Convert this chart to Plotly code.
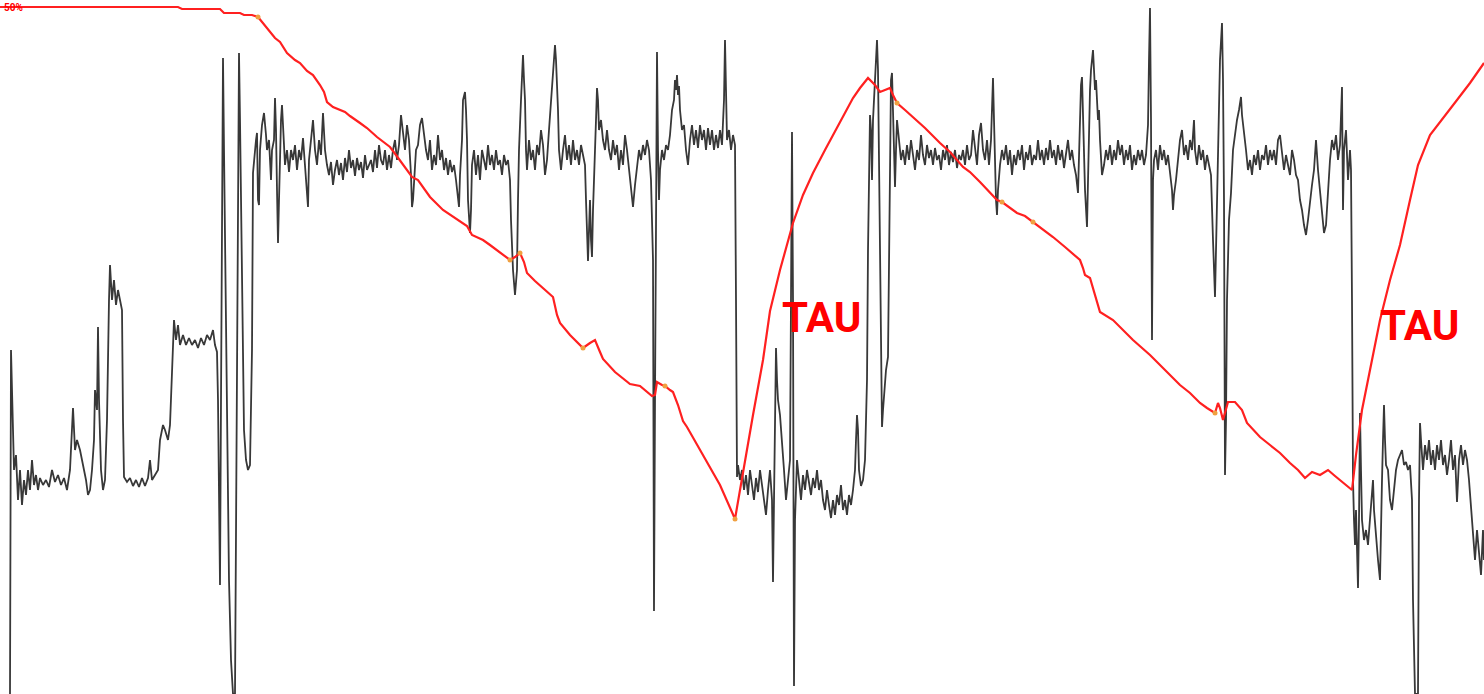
import plotly.graph_objects as go

# ---- black signal trace (time, level) ----
signal_pts = [
(10,694),(11,350),(13,430),(14,470),(16,455),(18,500),(20,470),(22,505),(24,480),(26,495),(28,470),(30,490),(32,460),(34,485),(36,475),(38,490),(40,478),(43,485),(46,480),(49,487),(52,470),(55,482),(58,475),(61,485),(64,478),(67,490),(70,470),(72,430),(73,408),(75,450),(77,440),(80,450),(83,465),(86,480),(88,495),(90,490),(92,470),(94,440),(95,390),(97,410),(98,327),(99,400),(101,470),(103,490),(105,480),(107,420),(109,300),(110,265),(112,300),(114,280),(116,305),(118,290),(120,300),(122,310),(123,420),(124,477),(127,482),(130,478),(133,486),(136,480),(139,487),(142,478),(145,486),(148,478),(150,460),(152,480),(155,475),(158,470),(160,440),(163,425),(165,430),(168,440),(170,425),(172,380),(174,320),(176,340),(178,325),(180,345),(183,335),(186,345),(189,338),(192,345),(195,340),(198,348),(201,338),(204,345),(207,335),(210,340),(213,330),(215,345),(217,352),
(218,400),(219,540),(220,585),(221,400),(222,150),(223,58),(224,150),(225,250),(227,450),(229,580),(231,660),(233,694),(235,694),(237,300),(239,53),(240,120),(242,300),(244,430),(246,460),(248,470),(250,465),(252,350),
(253,173),(254,160),(256,140),(257,133),(258,200),(259,205),(260,150),(262,125),(264,113),(266,135),(267,150),(269,140),(270,170),(271,180),(272,150),(274,140),(275,98),(276,130),(277,190),(278,243),(279,200),(280,150),(281,120),(282,105),(283,130),(285,165),(287,150),(289,172),(291,150),(293,160),(295,145),(297,170),(299,150),(301,160),(303,138),(305,165),(307,200),(308,207),(309,160),(311,140),(313,120),(315,150),(317,165),(319,140),(321,155),(323,113),(325,150),(327,165),(329,175),(331,162),(333,185),(335,170),(337,160),(339,175),(341,163),(343,180),(345,158),(347,172),(349,150),(351,168),(353,160),(355,176),(357,158),(359,170),(361,162),(363,178),(365,155),(367,170),(369,165),(371,160),(373,172),(375,150),(377,168),(379,145),(381,160),(383,165),(385,150),(387,170),(389,155),(391,168),(393,150),(395,140),(397,160),(399,145),(401,115),(403,130),(405,150),(407,125),(409,140),(411,175),(412,207),(413,200),(414,180),(415,170),(416,150),(418,145),(420,125),(422,118),(424,135),(426,150),(428,160),(430,140),(432,170),(434,155),(436,165),(438,135),(440,160),(442,150),(444,170),(446,158),(448,175),(450,160),(452,172),(454,165),(456,180),(458,195),(459,207),(460,175),(462,140),(463,100),(465,92),(466,110),(467,140),(468,200),(470,233),(471,210),(472,165),(474,150),(476,175),(478,155),(480,180),(482,150),(484,160),(486,170),(488,145),(490,165),(492,155),(494,170),(496,150),(498,165),(500,160),(502,175),(504,155),(506,165),(508,160),(510,180),(511,220),(513,270),(515,295),(517,270),(518,200),(519,150),(521,100),(523,55),(524,80),(525,100),(526,150),(527,170),(529,140),(531,160),(533,150),(535,170),(537,145),(539,155),(541,130),(543,145),(545,175),(547,160),(549,130),(551,100),(553,70),(555,45),(556,60),(557,80),(558,110),(559,150),(561,170),(563,150),(565,135),(567,160),(569,145),(571,165),(573,140),(575,160),(577,150),(579,165),(581,145),(583,155),(585,165),(586,200),(587,240),(588,261),(589,230),(590,200),(591,240),(592,257),(593,210),(594,170),(596,120),(597,88),(598,100),(599,130),(601,120),(603,140),(605,150),(607,130),(609,150),(611,160),(613,140),(615,155),(617,145),(619,170),(621,150),(623,165),(625,135),(627,150),(629,170),(631,190),(633,207),(635,185),(637,165),(639,150),(641,160),(643,145),(645,155),(647,140),(649,150),(651,180),(653,260),(654,611),(655,400),(656,150),(657,52),(658,150),(659,200),(660,170),(662,150),(664,160),(666,145),(668,150),(670,135),(672,110),(674,100),(675,80),(676,90),(677,75),(678,95),(679,86),(680,110),(682,130),(684,125),(686,150),(688,165),(690,140),(692,125),(694,145),(696,130),(698,148),(700,125),(702,140),(704,130),(706,150),(708,128),(710,145),(712,130),(714,150),(716,135),(718,148),(720,130),(722,145),(724,100),(725,40),(726,100),(727,140),(729,130),(731,150),(733,135),(735,145),(736,300),(737,477),
(738,465),(740,480),(742,470),(744,490),(746,475),(748,495),(750,470),(752,485),(754,500),(756,478),(758,492),(760,470),(762,485),(764,500),(766,515),(768,490),(770,470),(772,500),(773,582),(774,500),(775,390),(776,348),(777,380),(778,400),(780,415),(782,440),(784,470),(786,500),(788,480),(790,460),(791,300),(792,132),(793,300),(794,686),(795,520),(797,460),(799,480),(801,500),(803,475),(805,490),(807,470),(809,485),(811,495),(813,478),(815,488),(817,470),(819,490),(821,480),(823,500),(825,510),(827,490),(829,505),(831,518),(833,500),(835,515),(837,495),(839,505),(841,485),(843,510),(845,500),(847,515),(849,495),(851,505),(853,490),(855,470),(856,440),(857,415),(858,430),(859,470),(861,486),(863,480),(865,460),(867,380),(868,250),(869,144),(870,115),(871,130),(872,180),(873,120),(875,80),(876,60),(877,40),(878,70),(879,150),(880,219),(881,350),(882,427),(883,410),(884,394),(886,370),(888,357),(889,250),(890,120),(891,80),(892,73),(893,110),(894,160),(895,187),(896,150),(897,120),
(899,140),(901,160),(903,150),(905,165),(907,145),(909,160),(911,140),(913,155),(915,170),(917,150),(919,160),(921,135),(923,155),(925,165),(927,145),(929,158),(931,150),(933,165),(935,148),(937,160),(939,155),(941,170),(943,150),(945,160),(947,145),(949,165),(951,152),(953,162),(955,150),(957,168),(959,155),(961,160),(963,150),(965,165),(967,145),(969,160),(971,155),(973,130),(975,150),(977,165),(979,135),(981,123),(983,150),(985,160),(987,140),(989,165),(991,140),(992,100),(993,78),(994,120),(995,170),(996,200),(997,215),(998,190),(1000,165),(1002,150),(1004,160),(1006,145),(1008,165),(1010,150),(1012,175),(1014,155),(1016,165),(1018,150),(1020,160),(1022,145),(1024,170),(1026,152),(1028,160),(1030,145),(1032,165),(1034,155),(1036,160),(1038,140),(1040,160),(1042,150),(1044,165),(1046,148),(1048,160),(1050,140),(1052,158),(1054,150),(1056,165),(1058,145),(1060,160),(1062,150),(1064,168),(1066,155),(1068,140),(1070,160),(1072,150),(1074,165),(1076,175),(1078,193),(1079,150),(1080,100),(1081,85),(1082,77),(1083,110),(1084,150),(1085,190),(1087,227),(1088,180),(1089,120),(1090,90),(1091,70),(1093,50),(1094,70),(1095,90),(1096,80),(1097,100),(1098,120),(1099,110),(1100,140),(1102,175),(1104,165),(1106,150),(1108,160),(1110,145),(1112,165),(1114,150),(1116,160),(1118,140),(1120,155),(1122,145),(1124,165),(1126,150),(1128,160),(1130,145),(1132,170),(1134,155),(1136,165),(1138,150),(1140,160),(1142,150),(1144,165),(1146,155),(1148,125),(1149,60),(1150,8),(1151,120),(1152,340),(1153,180),(1154,160),(1156,150),(1158,170),(1160,145),(1162,160),(1164,150),(1166,165),(1168,155),(1170,170),(1172,190),(1173,210),(1174,195),(1176,180),(1178,160),(1180,140),(1182,130),(1184,155),(1186,145),(1188,160),(1190,140),(1192,150),(1194,120),(1195,150),(1197,165),(1199,145),(1201,160),(1203,150),(1205,170),(1207,155),(1209,165),(1211,175),(1213,240),(1215,297),(1216,250),(1218,150),(1219,85),(1220,60),(1222,23),(1223,80),(1224,200),(1225,475),(1226,420),(1227,300),(1229,220),(1231,193),(1233,150),(1235,133),(1237,120),(1239,110),(1241,97),(1242,115),(1244,130),(1246,150),(1248,170),(1250,160),(1252,175),(1254,155),(1256,165),(1258,150),(1260,170),(1262,155),(1264,160),(1266,145),(1268,165),(1270,150),(1272,160),(1274,150),(1276,165),(1278,140),(1280,135),(1282,150),(1284,170),(1286,155),(1288,165),(1290,175),(1292,150),(1294,160),(1296,175),(1298,180),(1300,200),(1302,210),(1304,225),(1306,235),(1308,220),(1310,200),(1312,185),(1314,170),(1316,140),(1318,170),(1320,190),(1322,210),(1324,233),(1326,225),(1328,190),(1330,160),(1332,140),(1334,150),(1336,135),(1338,160),(1340,145),(1342,87),(1343,210),(1344,150),(1346,130),(1348,180),(1350,150),(1351,170),
(1352,300),(1353,480),(1354,520),(1355,545),(1356,510),(1357,560),(1358,588),(1359,520),(1360,413),(1361,470),(1362,520),(1364,540),(1366,530),(1368,545),(1370,520),(1372,500),(1373,480),(1374,510),(1376,540),(1378,560),(1380,580),(1381,500),(1382,480),(1383,440),(1384,405),(1385,440),(1386,465),(1388,470),(1390,500),(1392,510),(1394,490),(1396,470),(1398,460),(1400,455),(1402,450),(1404,465),(1406,462),(1408,470),(1410,465),(1412,500),(1413,600),(1415,694),(1418,694),(1419,500),(1420,423),(1421,440),(1423,470),(1425,445),(1427,460),(1429,440),(1431,465),(1433,450),(1435,470),(1437,445),(1439,460),(1441,440),(1443,465),(1445,455),(1447,475),(1449,460),(1451,440),(1453,470),(1455,455),(1457,502),(1459,460),(1461,445),(1463,465),(1465,450),(1467,460),(1469,480),(1471,510),(1473,540),(1475,560),(1477,530),(1479,550),(1481,575),(1483,530),(1484,560),
]

# ---- red curve (time, level) ----
red_pts = [
(0,7),(178,7),(182,9),(220,9),(224,13),(240,13),(244,15),(252,15),(258,17),(262,22),(268,30),(275,38),(280,42),(287,53),(295,60),(300,63),(307,71),(313,75),(320,85),(324,92),(327,102),(333,107),(345,112),(350,116),(360,123),(367,128),(377,137),(390,147),(396,155),(402,163),(408,172),(412,177),(418,180),(425,190),(430,197),(443,210),(452,216),(460,222),(467,226),(472,235),(483,240),(490,245),(497,250),(503,255),(510,260),(515,257),(520,253),(524,262),(527,273),(535,281),(543,288),(553,297),(557,315),(560,323),(570,335),(583,348),(590,343),(595,340),(600,352),(603,359),(615,372),(630,384),(640,386),(652,396),(655,395),(657,382),(662,385),(665,386),(670,390),(673,392),(678,405),(683,421),(687,427),(700,450),(720,485),(735,519),(742,478),(753,415),(763,360),(770,311),(780,270),(793,223),(803,195),(813,173),(825,150),(837,128),(845,112),(853,98),(860,88),(868,78),(875,85),(880,92),(885,90),(890,88),(893,95),(897,103),(905,110),(913,117),(925,128),(940,143),(950,152),(963,167),(970,172),(980,182),(990,192),(997,200),(1002,202),(1010,208),(1017,213),(1025,216),(1033,222),(1043,229),(1053,237),(1065,247),(1080,260),(1083,268),(1085,275),(1090,278),(1095,295),(1100,312),(1113,320),(1125,332),(1133,340),(1150,355),(1165,370),(1180,385),(1190,393),(1200,403),(1207,408),(1213,412),(1215,413),(1218,403),(1220,408),(1223,420),(1228,402),(1235,402),(1242,410),(1247,423),(1260,437),(1270,445),(1280,453),(1290,463),(1298,470),(1305,478),(1312,472),(1320,475),(1328,470),(1335,476),(1342,482),(1352,490),(1356,455),(1362,410),(1370,370),(1380,320),(1390,280),(1400,245),(1410,200),(1418,165),(1430,135),(1445,115),(1457,100),(1470,83),(1484,63),
]

# ---- small orange markers on the red curve ----
marker_x = [258, 510, 520, 583, 665, 735, 897, 1002, 1033, 1215]
marker_y = [17, 260, 253, 348, 386, 519, 103, 202, 222, 413]

# ---- labels ----
label_text = ["TAU", "TAU"]
label_x = [821, 1419]
label_y = [317, 325]

sig_x = [p[0] for p in signal_pts]
sig_y = [p[1] for p in signal_pts]
red_x = [p[0] for p in red_pts]
red_y = [p[1] for p in red_pts]

fig = go.Figure()
fig.add_trace(go.Scatter(x=sig_x, y=sig_y, mode="lines",
                         line=dict(color="#383838", width=1.8), hoverinfo="skip"))
fig.add_trace(go.Scatter(x=red_x, y=red_y, mode="lines",
                         line=dict(color="#ff2020", width=2.2), hoverinfo="skip"))
fig.add_trace(go.Scatter(x=marker_x, y=marker_y, mode="markers",
                         marker=dict(color="#f0a040", size=5), hoverinfo="skip"))

font_family = "Roboto, Liberation Sans, Arial"
for t, x, y in zip(label_text, label_x, label_y):
    fig.add_annotation(x=x, y=y, text="<b>%s</b>" % t, showarrow=False,
                       xanchor="center", yanchor="middle",
                       font=dict(color="#ff0000", size=42, family=font_family))

# small percentage label at the very top-left
fig.add_annotation(x=2, y=0, text="<b>50%</b>", showarrow=False,
                   xanchor="left", yanchor="top",
                   font=dict(color="#ff0000", size=10, family=font_family))

fig.update_layout(
    width=1484, height=694,
    margin=dict(l=0, r=0, t=0, b=0),
    paper_bgcolor="white", plot_bgcolor="white",
    showlegend=False,
    xaxis=dict(range=[0, 1484], visible=False, fixedrange=True),
    yaxis=dict(range=[694, 0], visible=False, fixedrange=True),
)
fig.write_html("out.html", config={"displayModeBar": False},
               post_script="document.body.style.margin='0';document.body.style.overflow='hidden';")
